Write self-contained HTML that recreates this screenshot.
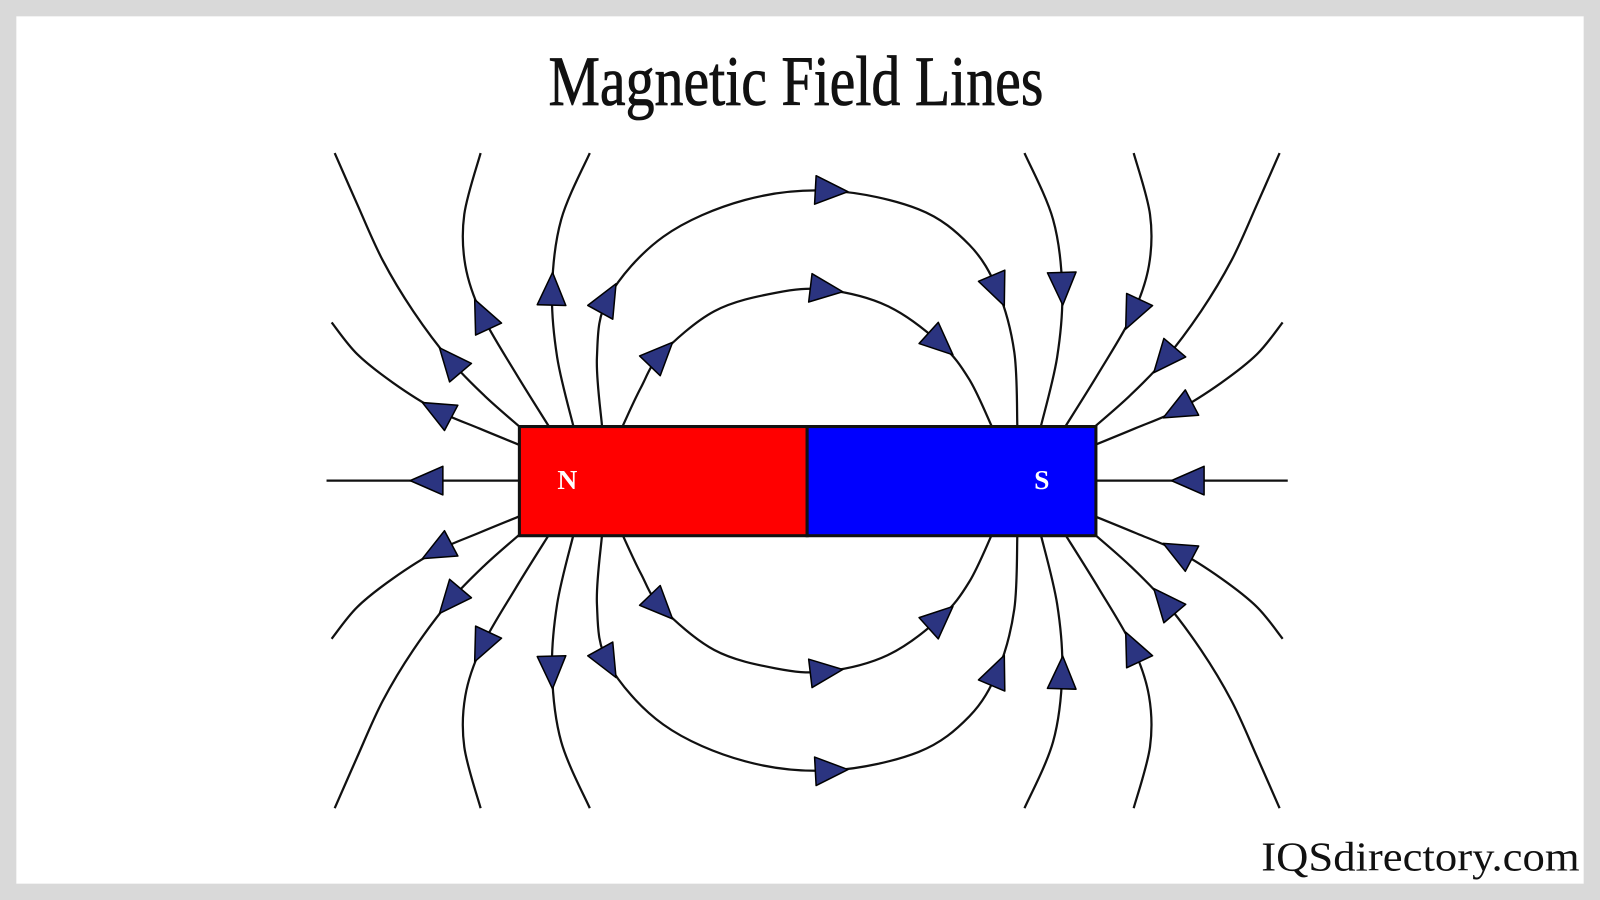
<!DOCTYPE html>
<html><head><meta charset="utf-8"><style>
html,body{margin:0;padding:0;background:#d9d9d9;}
svg{display:block;}
</style></head><body>
<svg id="s" width="1600" height="900" viewBox="0 0 1568 882" xmlns="http://www.w3.org/2000/svg">
<rect x="0" y="0" width="1568" height="882" fill="#d9d9d9"/>
<rect x="16" y="16" width="1536" height="850" fill="#ffffff"/>
<text x="780" y="103" text-anchor="middle" font-family="Liberation Serif, serif" font-size="70" textLength="485" lengthAdjust="spacingAndGlyphs" fill="#111" stroke="#111" stroke-width="0.8">Magnetic Field Lines</text>
<text x="1548" y="853" text-anchor="end" font-family="Liberation Serif, serif" font-size="40" textLength="312" lengthAdjust="spacingAndGlyphs" fill="#111">IQSdirectory.com</text>
<g id="lines" fill="none" stroke="#111" stroke-width="2.2"></g>
<g id="arrows" fill="#2b3480" stroke="#000" stroke-width="1.5" stroke-linejoin="round"></g>
<rect x="509" y="418" width="282" height="107" fill="#ff0000" stroke="#111" stroke-width="3"/>
<rect x="791" y="418" width="283" height="107" fill="#0000ff" stroke="#111" stroke-width="3"/>
<text x="556" y="479" text-anchor="middle" font-family="Liberation Serif, serif" font-size="27" font-weight="bold" fill="#fff">N</text>
<text x="1021" y="479" text-anchor="middle" font-family="Liberation Serif, serif" font-size="27" font-weight="bold" fill="#fff">S</text>
</svg>
<script>
var NS="http://www.w3.org/2000/svg";
var G=document.getElementById("lines"),A=document.getElementById("arrows");
function path(p){
  var d="M"+p[0][0]+","+p[0][1];
  for(var i=0;i<p.length-1;i++){
    var p0=p[Math.max(i-1,0)],p1=p[i],p2=p[i+1],p3=p[Math.min(i+2,p.length-1)];
    var c1=[p1[0]+(p2[0]-p0[0])/6,p1[1]+(p2[1]-p0[1])/6];
    var c2=[p2[0]-(p3[0]-p1[0])/6,p2[1]-(p3[1]-p1[1])/6];
    d+=" C"+c1[0].toFixed(1)+","+c1[1].toFixed(1)+" "+c2[0].toFixed(1)+","+c2[1].toFixed(1)+" "+p2[0]+","+p2[1];
  }
  var e=document.createElementNS(NS,"path");e.setAttribute("d",d);G.appendChild(e);
}
function arrow(p,k,dir){
  var a=p[Math.max(k-1,0)],b=p[Math.min(k+1,p.length-1)];
  var tx=(b[0]-a[0])*dir,ty=(b[1]-a[1])*dir,l=Math.hypot(tx,ty);tx/=l;ty/=l;
  var nx=-ty,ny=tx,c=p[k],L=16,W=14;
  var pts=[[c[0]+tx*L,c[1]+ty*L],[c[0]-tx*L+nx*W,c[1]-ty*L+ny*W],[c[0]-tx*L-nx*W,c[1]-ty*L-ny*W]];
  var e=document.createElementNS(NS,"polygon");
  e.setAttribute("points",pts.map(function(q){return q[0].toFixed(1)+","+q[1].toFixed(1)}).join(" "));
  A.appendChild(e);
}
var side=[
 {p:[[509,471],[418,471],[320,471]],a:[1]},
 {p:[[509,436],[470,420],[428,402],[385,375],[350,347],[325,316]],a:[2]},
 {p:[[509,418],[475,388],[441,353],[405,305],[375,255],[350,200],[328,150]],a:[2]},
 {p:[[538,418],[505,365],[472,308],[456,260],[455,210],[471,150]],a:[2]},
 {p:[[562,418],[546,350],[541,283],[550,215],[578,150]],a:[2]}
];
var arcs=[
 {p:[[590,418],[585,350],[596,292],[650,232],[730,196],[815,187],[900,205],[950,240],[978,285],[994,345],[997,418]],a:[2,5,8]},
 {p:[[610,418],[628,380],[648,347],[700,305],[760,287],[810,284],[870,300],[922,337],[950,372],[972,418]],a:[2,5,7]}
];
function mx(p){return p.map(function(q){return [1582-q[0],q[1]];});}
function my(p){return p.map(function(q){return [q[0],942-q[1]];});}
function draw(p,a,dir){path(p);a.forEach(function(k){arrow(p,k,dir);});}
side.forEach(function(s,i){
  var vs=[s.p]; if(i>0) vs.push(my(s.p));
  vs.forEach(function(p){draw(p,s.a,1);draw(mx(p),s.a,-1);});
});
arcs.forEach(function(s){draw(s.p,s.a,1);draw(my(s.p),s.a,1);});
</script>
</body></html>
